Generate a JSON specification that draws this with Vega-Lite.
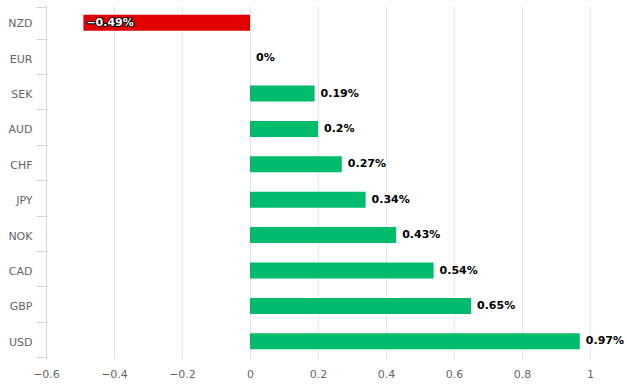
{
  "$schema": "https://vega.github.io/schema/vega-lite/v6.json",
  "autosize": {"type": "none"},
  "padding": {"left": 46, "top": 5, "right": 38, "bottom": 33},
  "width": 544,
  "height": 354,
  "config": {
    "view": {"stroke": null},
    "font": "DejaVu Sans",
    "axis": {"labelFont": "DejaVu Sans", "labelFontSize": 11, "labelColor": "#666666", "title": null}
  },
  "data": {
    "values": [
      {"currency": "NZD", "value": -0.49, "label": "−0.49%"},
      {"currency": "EUR", "value": 0, "label": "0%"},
      {"currency": "SEK", "value": 0.19, "label": "0.19%"},
      {"currency": "AUD", "value": 0.2, "label": "0.2%"},
      {"currency": "CHF", "value": 0.27, "label": "0.27%"},
      {"currency": "JPY", "value": 0.34, "label": "0.34%"},
      {"currency": "NOK", "value": 0.43, "label": "0.43%"},
      {"currency": "CAD", "value": 0.54, "label": "0.54%"},
      {"currency": "GBP", "value": 0.65, "label": "0.65%"},
      {"currency": "USD", "value": 0.97, "label": "0.97%"}
    ]
  },
  "encoding": {
    "y": {
      "field": "currency", "type": "nominal", "sort": null,
      "axis": {
        "tickBand": "extent", "domainColor": "#ccd6eb", "tickColor": "#ccd6eb",
        "tickSize": 10, "labelPadding": 4, "labelOffset": 1, "grid": false
      }
    },
    "x": {
      "field": "value", "type": "quantitative",
      "scale": {"domain": [-0.6, 1], "nice": false, "zero": false},
      "axis": {
        "values": [-0.6, -0.4, -0.2, 0, 0.2, 0.4, 0.6, 0.8, 1],
        "format": "~g", "domain": false, "ticks": false, "labelPadding": 9,
        "grid": true, "gridColor": "#e6e6e6", "labelFlush": false
      }
    }
  },
  "layer": [
    {
      "mark": {"type": "bar", "size": 16},
      "encoding": {
        "color": {"condition": {"test": "datum.value < 0", "value": "#e00000"}, "value": "#00bb6b"}
      }
    },
    {
      "transform": [{"filter": "datum.value >= 0"}],
      "mark": {"type": "text", "align": "left", "baseline": "middle", "dx": 6, "fontSize": 11, "fontWeight": "bold", "color": "#000000"},
      "encoding": {"text": {"field": "label"}}
    },
    {
      "transform": [{"filter": "datum.value < 0"}],
      "mark": {"type": "text", "align": "left", "baseline": "middle", "dx": 3, "fontSize": 11, "fontWeight": "bold", "fill": "#000000", "stroke": "#000000", "strokeWidth": 2, "strokeJoin": "round"},
      "encoding": {"text": {"field": "label"}}
    },
    {
      "transform": [{"filter": "datum.value < 0"}],
      "mark": {"type": "text", "align": "left", "baseline": "middle", "dx": 3, "fontSize": 11, "fontWeight": "bold", "color": "#ffffff"},
      "encoding": {"text": {"field": "label"}}
    }
  ]
}
